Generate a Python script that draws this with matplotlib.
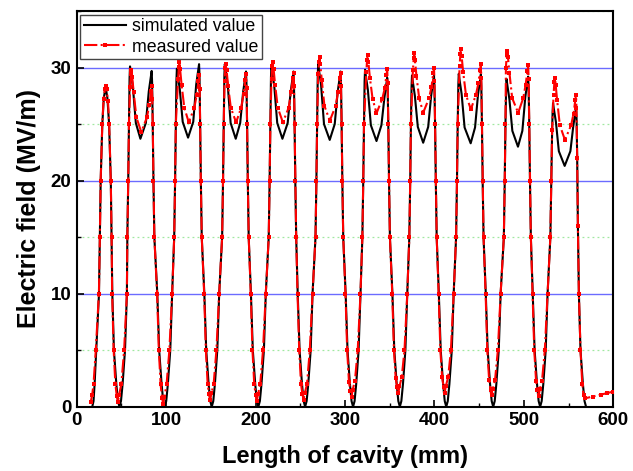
import matplotlib
matplotlib.use('Agg')
import matplotlib.pyplot as plt
from matplotlib.ticker import MultipleLocator

# simulated field, points (x in mm, y in MV/m)
sim_x = [17.4, 18.8, 20.0, 21.8, 24.9, 25.9, 26.8, 28.6, 30.3, 32.3, 34.3, 36.2, 38.1, 39.0, 39.8, 41.6, 44.3, 46.1, 47.8,
         49.5, 51.3, 54.0, 56.1, 56.6, 57.6, 58.4, 59.1, 59.6, 60.6, 62.8, 66.1, 71.2, 77.3, 80.6, 82.8, 83.8, 84.3, 85.0, 85.8, 86.8, 90.1, 92.2, 94.9, 96.7, 98.4,
         100.1, 101.9, 104.6, 106.7, 109.0, 110.0, 110.8, 111.5, 112.0, 113.0, 115.2, 118.5, 124.5, 130.3, 133.6, 135.8, 136.8, 137.3, 138.0, 138.8, 139.8, 142.7, 144.8, 147.5, 149.3, 151.0,
         152.7, 154.5, 157.2, 159.3, 162.6, 163.6, 164.4, 165.1, 165.6, 166.6, 168.8, 172.1, 177.8, 182.8, 186.1, 188.3, 189.3, 189.8, 190.5, 191.3, 192.3, 194.8, 196.9, 199.6, 201.4, 203.1,
         204.8, 206.6, 209.3, 211.4, 214.7, 215.7, 216.5, 217.2, 217.7, 218.7, 220.9, 224.2, 230.0, 235.9, 239.2, 241.4, 242.4, 242.9, 243.6, 244.4, 245.4, 247.1, 249.2, 251.9, 253.7, 255.4,
         257.1, 258.9, 261.6, 263.7, 267.0, 268.0, 268.8, 269.5, 270.0, 271.0, 273.2, 276.5, 282.9, 288.5, 291.8, 294.0, 295.0, 295.5, 296.2, 297.0, 298.0, 300.7, 302.8, 305.5, 307.3, 309.0,
         310.7, 312.5, 315.2, 317.3, 319.4, 320.4, 321.2, 321.9, 322.4, 323.4, 325.6, 328.9, 335.2, 340.7, 344.0, 346.2, 347.2, 347.7, 348.4, 349.2, 350.2, 353.0, 355.1, 357.8, 359.6, 361.3,
         363.0, 364.8, 367.5, 369.6, 371.9, 372.9, 373.7, 374.4, 374.9, 375.9, 378.1, 381.4, 387.4, 393.0, 396.3, 398.5, 399.5, 400.0, 400.7, 401.5, 402.5, 404.9, 407.0, 409.7, 411.5, 413.2,
         414.9, 416.7, 419.4, 421.5, 424.2, 425.2, 426.0, 426.7, 427.2, 428.2, 430.4, 433.7, 440.5, 445.4, 448.7, 450.9, 451.9, 452.4, 453.1, 453.9, 454.9, 457.4, 459.5, 462.2, 464.0, 465.7,
         467.4, 469.2, 471.9, 474.0, 477.6, 478.6, 479.4, 480.1, 480.6, 481.6, 483.8, 487.1, 493.4, 498.3, 501.6, 503.8, 504.8, 505.3, 506.0, 506.8, 507.8, 509.9, 512.0, 514.7, 516.5, 518.2,
         519.9, 521.7, 524.4, 526.5, 529.6, 530.6, 531.6, 532.1, 532.6, 533.6, 535.8, 539.1, 545.6, 552.0, 555.2, 557.4, 558.4, 558.9, 559.6, 560.4, 561.5, 563.3, 566.0, 567.8, 569.5]
sim_y = [0, 0.5, 2, 5, 10, 15, 20, 25, 27.3, 28.3, 27.3, 25, 20, 15, 10, 5, 2, 0.5, 0,
         0.5, 2, 5, 10, 15, 20, 25, 29.1, 30.1, 29.5, 28.3, 25.1, 23.7, 25.1, 27.9, 29.1, 29.7, 28.7, 25, 20, 15, 10, 5, 2, 0.5, 0,
         0.5, 2, 5, 10, 15, 20, 25, 28.9, 29.9, 29.3, 28.1, 25.2, 23.8, 25.2, 28.5, 29.7, 30.3, 29.3, 25, 20, 15, 10, 5, 2, 0.5, 0,
         0.5, 2, 5, 10, 15, 20, 25, 29.3, 30.3, 29.7, 28.5, 25.1, 23.7, 25.1, 27.85, 29.05, 29.65, 28.65, 25, 20, 15, 10, 5, 2, 0.5, 0,
         0.5, 2, 5, 10, 15, 20, 25, 29.15, 30.15, 29.55, 28.35, 25.1, 23.7, 25.1, 27.85, 29.05, 29.65, 28.65, 25, 20, 15, 10, 5, 2, 0.5, 0,
         0.5, 2, 5, 10, 15, 20, 25, 29.3, 30.3, 29.7, 28.5, 25.0, 23.6, 25.0, 27.85, 29.05, 29.65, 28.65, 25, 20, 15, 10, 5, 2, 0.5, 0,
         0.5, 2, 5, 10, 15, 20, 25, 28.8, 29.8, 29.2, 28.0, 24.9, 23.5, 24.9, 27.3, 28.5, 29.1, 28.1, 25, 20, 15, 10, 5, 2, 0.5, 0,
         0.5, 2, 5, 10, 15, 20, 25, 28.3, 29.3, 28.7, 27.5, 24.75, 23.35, 24.75, 27.5, 28.7, 29.3, 28.3, 25, 20, 15, 10, 5, 2, 0.5, 0,
         0.5, 2, 5, 10, 15, 20, 25, 28.45, 29.45, 28.85, 27.65, 24.7, 23.3, 24.7, 27.6, 28.8, 29.4, 28.4, 25, 20, 15, 10, 5, 2, 0.5, 0,
         0.5, 2, 5, 10, 15, 20, 25, 28.0, 29.0, 28.4, 27.2, 24.4, 23.0, 24.4, 27.4, 28.6, 29.2, 28.2, 25, 20, 15, 10, 5, 2, 0.5, 0,
         0.5, 2, 5, 10, 15, 20, 24.5, 26.0, 26.85, 26.3, 25.2, 22.6, 21.3, 22.6, 24.8, 26.0, 26.5, 25.5, 22, 16, 10, 5, 2, 0.5, 0]

# measured field
meas_x = [15.7, 17.2, 18.8, 21.3, 24.8, 25.9, 26.8, 28.6, 30.0, 31.5, 32.5, 33.5, 35.0, 36.3, 38.1, 39.0, 39.6, 41.3, 43.2, 44.8, 46.1,
          47.4, 49.9, 53.0, 56.1, 56.6, 57.6, 58.4, 59.7, 60.6, 61.2, 62.0, 63.7, 66.7, 72.2, 78.5, 81.2, 83.1, 84.0, 84.5, 85.0, 85.8, 86.8, 89.9, 91.8, 93.8, 95.4, 96.7,
          98.0, 100.5, 103.6, 106.7, 109.0, 110.0, 110.8, 113.3, 114.2, 114.8, 115.6, 117.3, 120.3, 125.3, 131.5, 134.2, 136.1, 137.0, 137.5, 138.0, 138.8, 139.8, 142.5, 144.4, 146.4, 148.0, 149.3,
          150.6, 153.1, 156.2, 159.3, 162.6, 163.6, 164.4, 165.3, 166.2, 166.8, 167.6, 169.3, 172.3, 178.2, 183.9, 186.6, 188.5, 189.4, 189.9, 190.5, 191.3, 192.3, 194.6, 196.5, 198.5, 200.1, 201.4,
          202.7, 205.2, 208.3, 211.4, 214.7, 215.7, 216.5, 217.8, 218.7, 219.3, 220.1, 221.8, 224.8, 230.5, 237.0, 239.7, 241.6, 242.5, 243.0, 243.6, 244.4, 245.4, 246.9, 248.8, 250.8, 252.4, 253.7,
          255.0, 257.5, 260.6, 263.7, 267.0, 268.0, 268.8, 270.0, 270.9, 271.5, 272.3, 274.0, 277.0, 283.0, 289.5, 292.2, 294.1, 295.0, 295.5, 296.2, 297.0, 298.0, 300.5, 302.4, 304.4, 306.0, 307.3,
          308.6, 311.1, 314.2, 317.3, 319.4, 320.4, 321.2, 323.8, 324.7, 325.3, 326.1, 327.8, 330.8, 335.2, 341.7, 344.4, 346.3, 347.2, 347.7, 348.4, 349.2, 350.2, 352.8, 354.7, 356.7, 358.3, 359.6,
          360.9, 363.4, 366.5, 369.6, 371.9, 372.9, 373.7, 375.9, 376.8, 377.4, 378.2, 379.9, 382.9, 387.4, 394.0, 396.7, 398.6, 399.5, 400.0, 400.7, 401.5, 402.5, 404.7, 406.6, 408.6, 410.2, 411.5,
          412.8, 415.3, 418.4, 421.5, 424.2, 425.2, 426.0, 428.1, 429.0, 429.6, 430.4, 432.1, 435.2, 440.7, 446.4, 449.1, 451.0, 451.9, 452.4, 453.1, 453.9, 454.9, 457.2, 459.1, 461.1, 462.7, 464.0,
          465.3, 467.8, 470.9, 474.0, 477.6, 478.6, 479.4, 479.9, 480.8, 481.4, 482.2, 483.9, 486.9, 493.6, 499.3, 502.0, 503.9, 504.8, 505.3, 506.0, 506.8, 507.8, 509.7, 511.6, 513.6, 515.2, 516.5,
          517.8, 520.3, 523.4, 526.5, 529.6, 530.6, 531.6, 533.2, 534.1, 534.7, 535.5, 537.2, 540.2, 545.9, 552.8, 555.5, 557.4, 558.3, 558.8, 559.6, 560.4, 561.5, 563.3, 565.3, 566.7, 568.4,
          577.0, 586.0, 593.0, 599.5]
meas_y = [0.45, 1.0, 2, 5, 10, 15, 20, 25, 27.2, 28.1, 28.4, 28.1, 27.0, 25, 20, 15, 10, 5, 2, 0.95, 0.45,
          1.05, 2, 5, 10, 15, 20, 25, 28.3, 29.4, 29.8, 29.2, 27.8, 25.6, 24.3, 25.6, 26.7, 27.9, 28.4, 27.2, 25, 20, 15, 10, 5, 2, 0.75, 0.25,
          0.85, 2, 5, 10, 15, 20, 25, 28.95, 30.05, 30.45, 29.85, 28.45, 26.45, 25.15, 26.45, 27.6, 28.8, 29.3, 28.1, 25, 20, 15, 10, 5, 2, 1.1, 0.6,
          1.2, 2, 5, 10, 15, 20, 25, 28.85, 29.95, 30.35, 29.75, 28.35, 26.45, 25.15, 26.45, 27.7, 28.9, 29.4, 28.2, 25, 20, 15, 10, 5, 2, 1.0, 0.5,
          1.1, 2, 5, 10, 15, 20, 25, 29.0, 30.1, 30.5, 29.9, 28.5, 26.45, 25.15, 26.45, 27.85, 29.05, 29.55, 28.35, 25, 20, 15, 10, 5, 2, 1.1, 0.6,
          1.2, 2, 5, 10, 15, 20, 25, 29.4, 30.5, 30.9, 30.3, 28.9, 26.6, 25.3, 26.6, 27.85, 29.05, 29.55, 28.35, 25, 20, 15, 10, 5, 2.2, 1.4, 0.9,
          1.5, 2.3, 5, 10, 15, 20, 25, 29.6, 30.7, 31.1, 30.5, 29.1, 27.25, 25.95, 27.25, 28.15, 29.35, 29.85, 28.65, 25, 20, 15, 10, 5, 2.5, 1.7, 1.2,
          1.8, 2.6, 5, 10, 15, 20, 25, 29.75, 30.85, 31.25, 30.65, 29.25, 27.3, 26.0, 27.3, 28.3, 29.5, 30.0, 28.8, 25, 20, 15, 10, 5, 2.6, 1.75, 1.25,
          1.85, 2.6, 5, 10, 15, 20, 25, 30.1, 31.2, 31.6, 31.0, 29.6, 27.6, 26.3, 27.6, 28.6, 29.8, 30.3, 29.1, 25, 20, 15, 10, 5, 2.4, 1.5, 1.0,
          1.6, 2.4, 5, 10, 15, 20, 25, 30.0, 31.1, 31.5, 30.9, 29.5, 27.3, 26.0, 27.3, 28.5, 29.7, 30.2, 29.0, 25, 20, 15, 10, 5, 2.3, 1.45, 0.95,
          1.55, 2.3, 5, 10, 15, 20, 24.5, 27.6, 28.7, 29.1, 28.5, 27.1, 24.9, 23.6, 24.9, 25.9, 27.1, 27.6, 26.4, 22, 16, 10, 5, 2, 1.0, 0.74,
          0.9, 1.06, 1.2, 1.33]

series_labels = ['simulated value', 'measured value']
x_ticks = [0, 100, 200, 300, 400, 500, 600]
y_ticks = [0, 10, 20, 30]

plt.rcParams['font.family'] = ['Liberation Sans', 'DejaVu Sans']

fig = plt.figure(figsize=(6.33, 4.71), dpi=100)
ax = fig.add_axes([0.1212, 0.1365, 0.8477, 0.8401])

ax.plot(sim_x, sim_y, color='black', lw=1.5, label=series_labels[0], zorder=3)
ax.plot(meas_x, meas_y, color='#ff0000', lw=1.5, ls='-.', marker='s', ms=2.5,
        mew=0, label=series_labels[1], zorder=4)

ax.set_xlim(0, 600)
ax.set_ylim(0, 35)
ax.set_xticks(x_ticks)
ax.set_yticks(y_ticks)
ax.xaxis.set_minor_locator(MultipleLocator(50))
ax.yaxis.set_minor_locator(MultipleLocator(5))
ax.tick_params(which='both', direction='in', top=False, right=False)
ax.tick_params(which='major', length=5, width=1.2, labelsize=13.5, pad=4)
ax.tick_params(which='minor', length=3, width=1)
for lab in ax.get_xticklabels() + ax.get_yticklabels():
    lab.set_fontweight('bold')

ax.yaxis.grid(True, which='major', color='#6b6bff', lw=1)
ax.yaxis.grid(True, which='minor', color='#a0e8a0', lw=0.9, ls=(0, (1.5, 2.5)))
ax.set_axisbelow(True)
for sp in ax.spines.values():
    sp.set_linewidth(1.5)

ax.set_xlabel('Length of cavity (mm)', fontsize=17, fontweight='bold', labelpad=11)
ax.set_ylabel('Electric field (MV/m)', fontsize=18, fontweight='bold', labelpad=7)

leg = ax.legend(loc='upper left', fontsize=12.8, fancybox=False, edgecolor='#444444',
                framealpha=1, borderaxespad=0.2, handlelength=2.4, handletextpad=0.3,
                labelspacing=0.2, borderpad=0.2, numpoints=1)
leg.get_frame().set_linewidth(1.0)

fig.savefig('out.png', dpi=100)
